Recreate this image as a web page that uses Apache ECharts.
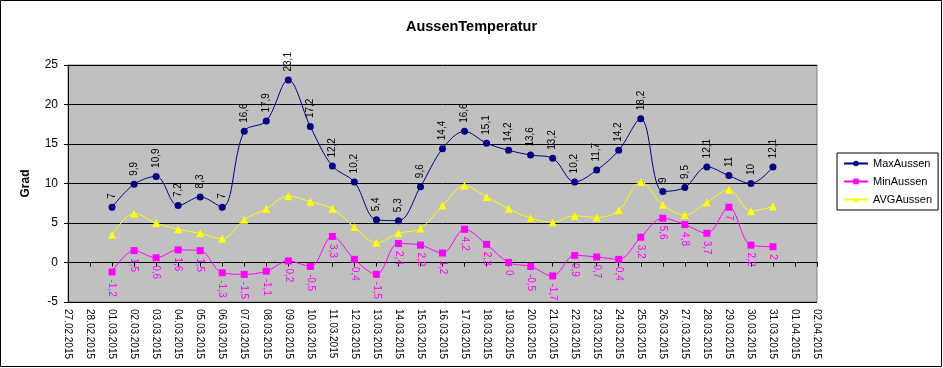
<!DOCTYPE html>
<html>
<head>
<meta charset="utf-8">
<script src="https://cdn.jsdelivr.net/npm/echarts@6/dist/echarts.min.js"></script>
<style>
html,body{margin:0;padding:0;background:#fff;}
#c{width:943px;height:368px;}
</style>
</head>
<body>
<div id="c"></div>
<script>
// Axis tick labels (every day shown on the date axis)
const axisDates = ['27.02.2015','28.02.2015','01.03.2015','02.03.2015','03.03.2015','04.03.2015','05.03.2015','06.03.2015','07.03.2015','08.03.2015','09.03.2015','10.03.2015','11.03.2015','12.03.2015','13.03.2015','14.03.2015','15.03.2015','16.03.2015','17.03.2015','18.03.2015','19.03.2015','20.03.2015','21.03.2015','22.03.2015','23.03.2015','24.03.2015','25.03.2015','26.03.2015','27.03.2015','28.03.2015','29.03.2015','30.03.2015','31.03.2015','01.04.2015','02.04.2015'];
// Days that have measurements
const dataDates = axisDates.slice(2, 33);
const maxAussen = [7,9.9,10.9,7.2,8.3,7,16.6,17.9,23.1,17.2,12.2,10.2,5.4,5.3,9.6,14.4,16.6,15.1,14.2,13.6,13.2,10.2,11.7,14.2,18.2,9,9.5,12.1,11,10,12.1];
const minAussen = [-1.2,1.5,0.6,1.6,1.5,-1.3,-1.5,-1.1,0.2,-0.5,3.3,0.4,-1.5,2.4,2.2,1.2,4.2,2.3,0,-0.5,-1.7,0.9,0.7,0.4,3.2,5.6,4.8,3.7,7,2.2,2];
const avgAussen = [3.5,6.2,5.0,4.2,3.7,3.0,5.4,6.8,8.4,7.7,6.8,4.5,2.5,3.7,4.3,7.2,9.7,8.3,6.8,5.6,5.1,5.9,5.7,6.6,10.2,7.3,6.0,7.6,9.2,6.5,7.1];
const yTicks = {min:-5, max:25, step:5};

const FONT = '"Liberation Sans", Arial, sans-serif';
const toPairs = vals => vals.map((v,i)=>[axisDates.indexOf(dataDates[i]), v]);
const fmt = p => String(p.value[1]).replace('.', ',');
const xMax = axisDates.length - 1;

const chart = echarts.init(document.getElementById('c'), null, {renderer:'canvas'});
chart.setOption({
  animation:false,
  backgroundColor:'#fff',
  title:{text:'AussenTemperatur', left:'center', top:14,
    textStyle:{fontFamily:FONT, fontSize:14.5, fontWeight:'bold', color:'#000'}},
  graphic:[{type:'rect', shape:{x:0.5,y:0.5,width:941,height:366}, style:{fill:'none', stroke:'#000', lineWidth:1}, silent:true}],
  grid:{left:68, top:65, right:126, bottom:66, show:true, backgroundColor:'#c0c0c0', borderColor:'#808080', borderWidth:1},
  legend:{
    orient:'vertical', left:837, top:153,
    backgroundColor:'#fff', borderColor:'#000', borderWidth:1,
    padding:[5,6,5,6], itemGap:7, itemWidth:24, itemHeight:7,
    textStyle:{fontFamily:FONT, fontSize:11, color:'#000'},
    data:['MaxAussen','MinAussen','AVGAussen']
  },
  xAxis:[
    {type:'value', min:0, max:xMax, interval:1, position:'bottom',
     axisLine:{onZero:true, lineStyle:{color:'#000', width:1}},
     axisTick:{show:true, length:4, lineStyle:{color:'#000'}},
     axisLabel:{show:false}, splitLine:{show:false}},
    {type:'value', min:0, max:xMax, interval:1, position:'bottom',
     axisLine:{show:false, onZero:false}, axisTick:{show:false}, splitLine:{show:false},
     axisLabel:{show:true, rotate:-90, margin:7, fontFamily:FONT, fontSize:10, color:'#000',
       formatter: v => axisDates[Math.round(v)] || ''}}
  ],
  yAxis:{type:'value', min:yTicks.min, max:yTicks.max, interval:yTicks.step,
    name:'Grad', nameLocation:'middle', nameRotate:90, nameGap:36,
    nameTextStyle:{fontFamily:FONT, fontSize:12, fontWeight:'bold', color:'#000'},
    axisLine:{show:true, lineStyle:{color:'#000'}},
    axisTick:{show:true, length:4, lineStyle:{color:'#000'}},
    axisLabel:{fontFamily:FONT, fontSize:12, color:'#000', margin:10},
    splitLine:{show:true, lineStyle:{color:'#000', width:1}}},
  series:[
    {name:'MaxAussen', type:'line', xAxisIndex:0, smooth:0.35, clip:false, data:toPairs(maxAussen),
     symbol:'circle', symbolSize:7, color:'#000080',
     lineStyle:{color:'#000080', width:1}, itemStyle:{color:'#000080'},
     label:{show:true, position:'top', rotate:90, align:'left', verticalAlign:'middle', distance:5,
       fontFamily:FONT, fontSize:10, color:'#000', formatter:fmt}, z:4},
    {name:'MinAussen', type:'line', xAxisIndex:0, smooth:0.35, clip:false, data:toPairs(minAussen),
     symbol:'rect', symbolSize:7, color:'#ff00ff',
     lineStyle:{color:'#ff00ff', width:1}, itemStyle:{color:'#ff00ff'},
     label:{show:true, position:'bottom', rotate:-90, align:'left', verticalAlign:'middle', distance:4,
       fontFamily:FONT, fontSize:10, color:'#ff00ff', formatter:fmt}, z:3},
    {name:'AVGAussen', type:'line', xAxisIndex:0, smooth:0.35, clip:false, data:toPairs(avgAussen),
     symbol:'triangle', symbolSize:8, color:'#ffff00',
     lineStyle:{color:'#ffff00', width:1}, itemStyle:{color:'#ffff00'}, label:{show:false}, z:2}
  ]
});
</script>
</body>
</html>
